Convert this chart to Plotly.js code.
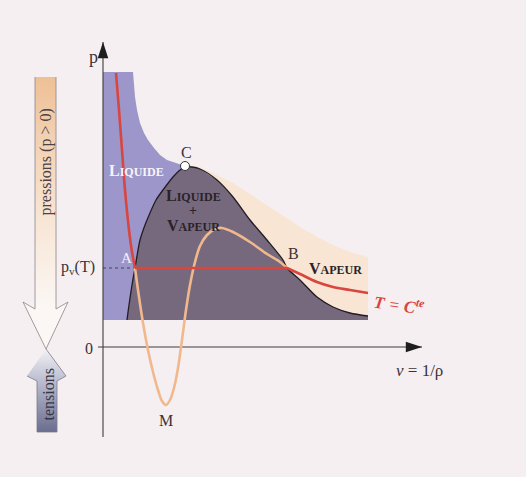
<!DOCTYPE html>
<html><head><meta charset="utf-8">
<script src="https://cdn.plot.ly/plotly-3.0.1.min.js"></script>
<style>html,body{margin:0;padding:0;background:#f5eff1}#chart{width:526px;height:477px}</style>
</head><body><div id="chart"></div>
<script>
// ---- data (v = 1/rho along x, p along y; arbitrary units) ----
const liquidV = [0, 0, 3.0, 3.2, 3.4, 3.7, 4.1, 4.5, 5.1, 5.7, 6.4, 7.2, 8.2, 8.2];
const liquidP = [2.7, 27.5, 27.5, 25.0, 23.7, 22.4, 21.4, 20.7, 19.9, 19.2, 18.7, 18.4, 18.1, 2.7];
const vapourV = [8.2, 8.7, 9.7, 11.2, 13.0, 14.7, 16.4, 18.0, 19.7, 21.4, 23.0, 24.7, 26.5, 26.5, 8.2];
const vapourP = [18.1, 18.2, 18.0, 17.3, 16.4, 15.3, 14.2, 13.1, 12.0, 11.0, 10.2, 9.5, 9.0, 2.7, 2.7];
const domeV = [2.4, 2.6, 2.9, 3.2, 3.7, 4.2, 4.7, 5.3, 6.0, 7.0, 7.7, 8.2, 8.9, 9.7, 11.4, 13.0, 14.7, 16.4, 18.0, 18.4, 19.7, 21.4, 23.0, 24.7, 26.5];
const domeP = [2.7, 4.2, 6.2, 7.9, 10.7, 12.2, 13.4, 14.7, 15.7, 17.0, 17.7, 18.0, 18.0, 17.8, 16.7, 15.0, 12.7, 10.7, 8.7, 7.9, 6.7, 5.0, 4.0, 3.4, 3.1];
const domeBase = 2.7;
const isoLiqV = [1.3, 1.6, 1.9, 2.2, 2.6, 2.9, 3.2];
const isoLiqP = [27.4, 23.7, 19.7, 15.7, 11.7, 9.5, 7.9];
const isoVapV = [18.4, 19.7, 21.4, 23.0, 24.7, 26.5];
const isoVapP = [7.9, 7.3, 6.5, 6.0, 5.7, 5.4];
const loopV = [3.2, 3.5, 4.0, 4.5, 5.0, 5.5, 5.9, 6.3, 6.7, 7.1, 7.5, 7.9, 8.3, 8.7, 9.2, 9.7, 10.4, 11.2, 11.9, 13.0, 14.7, 16.4, 17.7, 18.4];
const loopP = [7.9, 5.7, 2.4, -0.3, -2.5, -4.3, -5.4, -5.8, -5.3, -4.1, -2.1, 0.7, 3.7, 6.2, 8.5, 10.1, 11.2, 11.8, 11.9, 11.5, 10.5, 9.3, 8.5, 7.9];
const pointNames = ['A', 'B', 'C', 'M'];
const pointV = [3.2, 18.4, 8.2, 6.3];
const pointP = [7.9, 7.9, 18.1, -5.8];
const pv = 7.9;
const axisV = [-0.5, 31.9];   // v-axis extent
const axisP = [-9.0, 30.5];   // p-axis extent
const pressArrowV = [-6.8, -6.8, -8.0, -5.7, -3.5, -4.7, -4.7];
const pressArrowP = [27.0, 3.8, 4.5, -0.2, 4.5, 3.8, 27.0];
const tensArrowV = [-5.7, -3.7, -4.6, -4.6, -6.6, -6.6, -7.6];
const tensArrowP = [-0.2, -2.9, -3.4, -8.5, -8.5, -3.4, -2.9];

// ---- styles ----
const PURPLE = '#9d96ca', BEIGE = '#f8e5d3', DARK = '#76697d', RED = '#d9453f', ORANGE = '#f1b88d', INK = '#3a3338';
const F = 'Liberation Serif, Times New Roman, serif';

const traces = [];
traces.push({x: liquidV, y: liquidP, fill: 'toself', fillcolor: PURPLE, mode: 'lines', line: {width: 0}, hoverinfo: 'skip'});
traces.push({x: vapourV, y: vapourP, fill: 'toself', fillcolor: BEIGE, mode: 'lines', line: {width: 0}, hoverinfo: 'skip'});
traces.push({x: domeV.concat([domeV[domeV.length - 1], domeV[0]]), y: domeP.concat([domeBase, domeBase]),
  fill: 'toself', fillcolor: DARK, mode: 'lines', line: {width: 0}, hoverinfo: 'skip'});
traces.push({x: domeV, y: domeP, mode: 'lines', line: {color: '#221c24', width: 1.3, shape: 'spline', smoothing: 0.8}, hoverinfo: 'skip'});
// dotted p_v level
traces.push({x: [0, pointV[0]], y: [pv, pv], mode: 'lines', line: {color: '#4a4450', width: 1, dash: 'dot'}, hoverinfo: 'skip'});
// axes
traces.push({x: [0, 0], y: axisP, mode: 'lines', line: {color: '#3c3c3c', width: 1.1}, hoverinfo: 'skip'});
traces.push({x: axisV, y: [0, 0], mode: 'lines', line: {color: '#3c3c3c', width: 1.1}, hoverinfo: 'skip'});
traces.push({x: [0, axisV[1]], y: [axisP[1], 0], mode: 'markers',
  marker: {symbol: 'arrow', size: 17, angle: [0, 90], color: '#1e1e1e', line: {width: 0}}, hoverinfo: 'skip'});
// van der Waals loop and isotherm
traces.push({x: loopV, y: loopP, mode: 'lines', line: {color: ORANGE, width: 2.6, shape: 'spline', smoothing: 0.9}, hoverinfo: 'skip'});
traces.push({x: isoLiqV, y: isoLiqP, mode: 'lines', line: {color: RED, width: 2.6, shape: 'spline'}, hoverinfo: 'skip'});
traces.push({x: [pointV[0], pointV[1]], y: [pointP[0], pointP[1]], mode: 'lines', line: {color: RED, width: 2.6}, hoverinfo: 'skip'});
traces.push({x: isoVapV, y: isoVapP, mode: 'lines', line: {color: RED, width: 2.6, shape: 'spline'}, hoverinfo: 'skip'});
// critical point C
traces.push({x: [pointV[2]], y: [pointP[2]], mode: 'markers', marker: {size: 9, color: '#ffffff', line: {color: '#333', width: 1}}, hoverinfo: 'skip'});
// side arrows
traces.push({x: pressArrowV, y: pressArrowP, fill: 'toself', mode: 'lines', line: {color: '#8c8588', width: 0.8},
  fillgradient: {type: 'vertical', start: 4.0, stop: 27.0, colorscale: [[0, '#fbf7f4'], [0.45, '#f7e2cf'], [1, '#eec096']]}, hoverinfo: 'skip'});
traces.push({x: tensArrowV, y: tensArrowP, fill: 'toself', mode: 'lines', line: {color: '#7d7a88', width: 0.8},
  fillgradient: {type: 'vertical', start: -8.5, stop: -0.2, colorscale: [[0, '#6a6d8f'], [0.6, '#b9bbcf'], [1, '#f2f1f5']]}, hoverinfo: 'skip'});

function ann(text, x, y, opts) {
  return Object.assign({text: text, x: x, y: y, xref: 'x', yref: 'y', showarrow: false,
    font: {family: F, size: 16, color: INK}}, opts || {});
}
const sc = (s) => s[0] + '<span style="font-size:12px">' + s.slice(1) + '</span>';
const annotations = [
  ann('p', -1.0, 29.0, {font: {family: F, size: 18, color: INK}}),
  ann('p<sub>v</sub>(T)', -0.6, pv + 0.1, {xanchor: 'right', font: {family: F, size: 16, color: INK}}),
  ann('0', -0.8, -0.1, {xanchor: 'right', font: {family: F, size: 16, color: INK}}),
  ann(pointNames[0], pointV[0] - 0.9, pointP[0] + 1.0, {font: {family: F, size: 15, color: '#f3eff6'}}),
  ann(pointNames[1], pointV[1] + 0.6, pointP[1] + 1.5, {font: {family: F, size: 16, color: INK}}),
  ann(pointNames[2], pointV[2] + 0.1, pointP[2] + 1.4, {font: {family: F, size: 16, color: INK}}),
  ann(pointNames[3], pointV[3], pointP[3] - 1.5, {font: {family: F, size: 16, color: INK}}),
  ann('<b>' + sc('LIQUIDE') + '</b>', 3.3, 17.7, {font: {family: F, size: 16, color: '#f7f4fa'}}),
  ann('<b>' + sc('LIQUIDE') + '</b>', 9.0, 15.2, {font: {family: F, size: 16, color: '#2a2228'}}),
  ann('<b>+</b>', 9.0, 13.7, {font: {family: F, size: 14, color: '#2a2228'}}),
  ann('<b>' + sc('VAPEUR') + '</b>', 9.0, 12.2, {font: {family: F, size: 16, color: '#2a2228'}}),
  ann('<b>' + sc('VAPEUR') + '</b>', 23.2, 7.9, {font: {family: F, size: 16, color: '#2a2228'}}),
  ann('<i><b>T</b> = <b>C<sup>te</sup></b></i>', 29.6, 4.3, {textangle: 8, font: {family: F, size: 17, color: RED}}),
  ann('<i>v</i> = 1/ρ', 31.6, -2.3, {font: {family: F, size: 17, color: INK}}),
  ann('pressions (p > 0)', -5.75, 18.5, {textangle: -90, font: {family: F, size: 16, color: '#4a4246'}}),
  ann('tensions', -5.55, -4.8, {textangle: -90, font: {family: F, size: 16, color: '#3a3640'}})
];

const layout = {
  width: 526, height: 477, margin: {l: 0, r: 0, t: 0, b: 0},
  paper_bgcolor: '#f5eff1', plot_bgcolor: '#f5eff1', showlegend: false,
  xaxis: {range: [-10.3, 42.3], visible: false, fixedrange: true},
  yaxis: {range: [-13.0, 34.7], visible: false, fixedrange: true},
  annotations: annotations
};
Plotly.newPlot('chart', traces, layout, {staticPlot: true, displayModeBar: false});
</script></body></html>
